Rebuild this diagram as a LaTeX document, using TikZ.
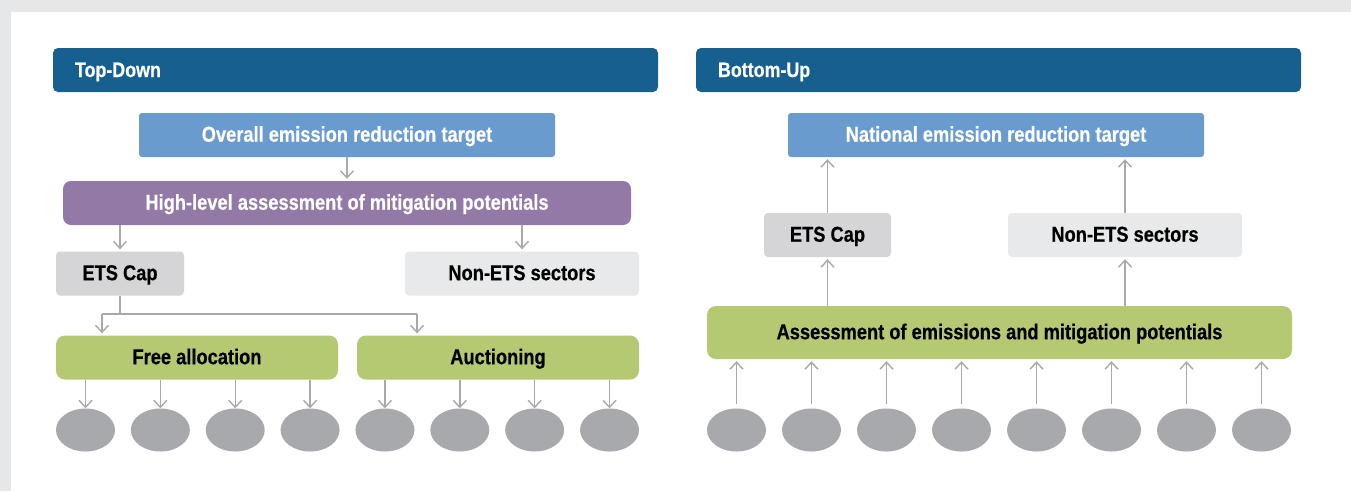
\documentclass[tikz,border=0pt]{standalone}
\usepackage{fontspec}
\setmainfont{Liberation Sans}[FakeStretch=0.85, BoldFeatures={FakeBold=0.5}]
\usetikzlibrary{arrows.meta,shapes.geometric}

\definecolor{pagegray}{HTML}{E6E7E9}
\definecolor{headblue}{HTML}{15608F}
\definecolor{targetblue}{HTML}{6A9BCE}
\definecolor{assesspurple}{HTML}{9279A6}
\definecolor{capgray}{HTML}{D5D5D7}
\definecolor{nonetsgray}{HTML}{E8E9EB}
\definecolor{allocgreen}{HTML}{B5C872}
\definecolor{dotgray}{HTML}{A7A9AC}

\tikzset{
  header/.style={fill=headblue, rounded corners=5pt, minimum height=44pt,
    inner xsep=22pt, inner ysep=0pt, align=left, text=white,
    text height=15pt, text depth=1pt,
    font=\bfseries\fontsize{21}{23}\selectfont},
  box/.style={rounded corners=4pt, minimum height=44pt, inner sep=0pt,
    text height=16pt, text depth=2.6pt,
    font=\bfseries\fontsize{21.5}{24}\selectfont},
  targetbox/.style={box, fill=targetblue, text=white, rounded corners=3pt},
  purplebox/.style={box, fill=assesspurple, text=white, rounded corners=8pt},
  capbox/.style={box, fill=capgray, text=black},
  nonetsbox/.style={box, fill=nonetsgray, text=black},
  greenbox/.style={box, fill=allocgreen, text=black, rounded corners=9pt},
  blob/.style={ellipse, fill=dotgray, minimum width=59pt, minimum height=43pt, inner sep=0pt},
  link/.style={draw=dotgray, line width=1.4pt},
  arr/.style={link, -{Straight Barb[length=7pt,width=13pt]}, shorten >=2pt},
}

\begin{document}
\begin{tikzpicture}[x=1pt,y=-1pt]
  % page and panel
  \fill[pagegray] (0,0) rectangle (1351,491);
  \fill[white] (10.5,12) rectangle (1351,491);
  \useasboundingbox (0,0) rectangle (1351,491);

  % ---------- Top-Down ----------
  \node[header, text width=561pt] (tdh) at (355.5,70) {Top-Down};
  \node[targetbox, minimum width=416pt] (ovt) at (347,135) {Overall emission reduction target};
  \node[purplebox, minimum width=568pt] (hla) at (347,203) {High-level assessment of mitigation potentials};
  \node[capbox, minimum width=128pt] (etsl) at (120,273.5) {ETS Cap};
  \node[nonetsbox, minimum width=234pt] (nonl) at (522,273.5) {Non-ETS sectors};
  \node[greenbox, minimum width=282pt] (fa) at (197,357.5) {Free allocation};
  \node[greenbox, minimum width=282pt] (au) at (498,357.5) {Auctioning};

  \foreach \i in {1,...,8}{
    \node[blob] (l\i) at ({85.5+74.86*(\i-1)},430) {};
  }

  \draw[arr] (ovt.south) -- (hla.north);
  \draw[arr] (hla.south -| etsl.north) -- (etsl.north);
  \draw[arr] (hla.south -| nonl.north) -- (nonl.north);

  \coordinate (jl) at (102,314);
  \coordinate (jr) at (417,314);
  \draw[link] (etsl.south) -- (etsl.south |- jl);
  \draw[link] (jl) -- (jr);
  \draw[arr] (jl) -- (jl |- fa.north);
  \draw[arr] (jr) -- (jr |- au.north);

  \foreach \i in {1,...,4}{
    \draw[arr] (fa.south -| l\i.north) -- ([yshift=-2pt]l\i.north);
  }
  \foreach \i in {5,...,8}{
    \draw[arr] (au.south -| l\i.north) -- ([yshift=-2pt]l\i.north);
  }

  % ---------- Bottom-Up ----------
  \node[header, text width=561pt] (buh) at (998.5,70) {Bottom-Up};
  \node[targetbox, minimum width=416pt] (nat) at (996,135) {National emission reduction target};
  \node[capbox, minimum width=127pt] (etsr) at (827.5,235) {ETS Cap};
  \node[nonetsbox, minimum width=234pt] (nonr) at (1125,235) {Non-ETS sectors};
  \node[greenbox, minimum width=585pt, minimum height=53pt] (asm) at (999.5,332.5) {Assessment of emissions and mitigation potentials};

  \foreach \i in {1,...,8}{
    \node[blob] (r\i) at ({736.5+75*(\i-1)},430) {};
  }

  \draw[arr] (etsr.north) -- (etsr.north |- nat.south);
  \draw[arr] (nonr.north) -- (nonr.north |- nat.south);
  \draw[arr] (asm.north -| etsr.south) -- (etsr.south);
  \draw[arr] (asm.north -| nonr.south) -- (nonr.south);

  \foreach \i in {1,...,8}{
    \draw[arr] ([yshift=4pt]r\i.north) -- (r\i.north |- asm.south);
  }
\end{tikzpicture}
\end{document}
